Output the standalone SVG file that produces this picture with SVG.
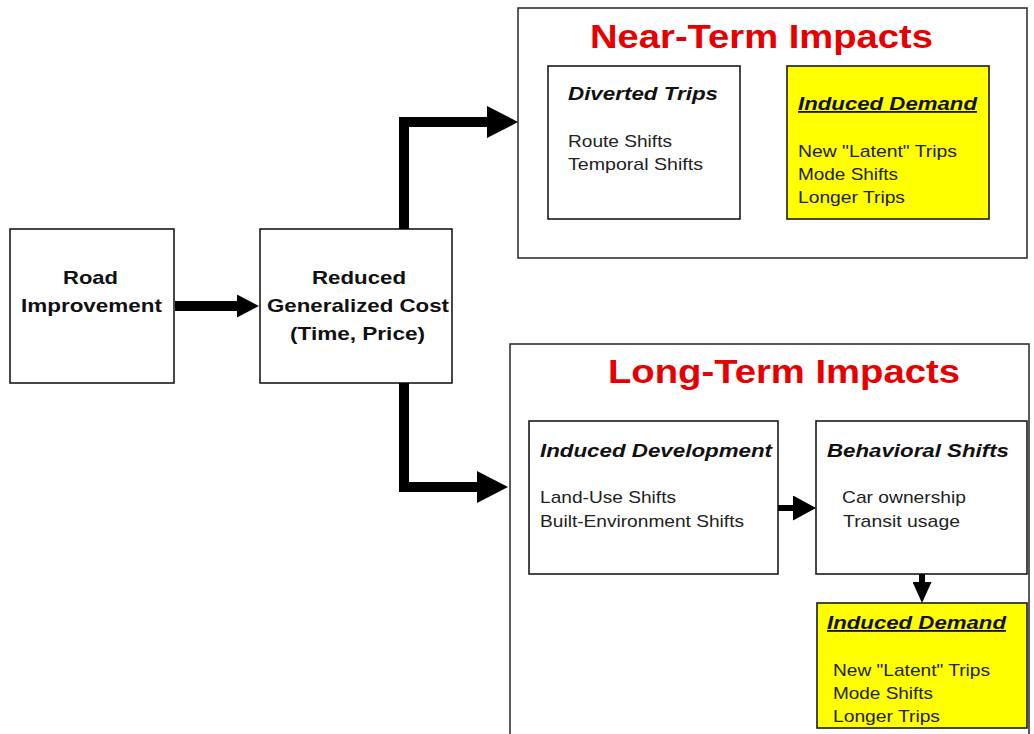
<svg xmlns="http://www.w3.org/2000/svg" width="1034" height="734" viewBox="0 0 1034 734">
<style>
.box{fill:#fff;stroke:#1a1a1a;stroke-width:1.6}
.yel{fill:#ffff00;stroke:#1a1a1a;stroke-width:1.6}
.cont{fill:#fff;stroke:#333;stroke-width:1.6}
text{font-family:"Liberation Sans",Arial,sans-serif;fill:#111}
.b{font-weight:bold;font-size:19px}
.bi{font-weight:bold;font-style:italic;font-size:18px}
.r{font-size:17px;fill:#222}
.t{font-weight:bold;font-size:33px;fill:#e60000}
.u{text-decoration:underline}
.conn{fill:none;stroke:#000;stroke-linejoin:miter}
</style>
<defs>
<marker id="hL" markerUnits="userSpaceOnUse" markerWidth="32" markerHeight="32" viewBox="0 0 32 32" refX="1" refY="16" orient="auto"><path d="M0,0 L31,16 L0,32 z" fill="#000"/></marker>
<marker id="hM" markerUnits="userSpaceOnUse" markerWidth="23" markerHeight="23" viewBox="0 0 23 23" refX="1" refY="11.5" orient="auto"><path d="M0,0 L22,11.5 L0,23 z" fill="#000"/></marker>
<marker id="hS" markerUnits="userSpaceOnUse" markerWidth="24" markerHeight="25" viewBox="0 0 24 25" refX="1" refY="12.5" orient="auto"><path d="M0,0 L23,12.5 L0,25 z" fill="#000"/></marker>
<marker id="hD" markerUnits="userSpaceOnUse" markerWidth="22" markerHeight="19" viewBox="0 0 22 19" refX="1" refY="9.5" orient="auto"><path d="M0,0 L21,9.5 L0,19 z" fill="#000"/></marker>
</defs>
<rect width="1034" height="734" fill="#fff"/>

<g id="near-term">
<rect class="cont" x="518" y="8" width="509" height="250"/>
<text class="t" x="590" y="48" textLength="343" lengthAdjust="spacingAndGlyphs">Near-Term Impacts</text>
</g>
<g id="long-term">
<rect class="cont" x="510" y="344" width="519" height="400"/>
<text class="t" x="608" y="383" textLength="352" lengthAdjust="spacingAndGlyphs">Long-Term Impacts</text>
</g>

<g id="road-improvement">
<rect class="box" x="10" y="229" width="164" height="154"/>
<text class="b" x="63" y="284" textLength="55" lengthAdjust="spacingAndGlyphs">Road</text>
<text class="b" x="21" y="312" textLength="141" lengthAdjust="spacingAndGlyphs">Improvement</text>
</g>

<g id="reduced-cost">
<rect class="box" x="260" y="229" width="192" height="154"/>
<text class="b" x="312" y="284" textLength="94" lengthAdjust="spacingAndGlyphs">Reduced</text>
<text class="b" x="267" y="312" textLength="182" lengthAdjust="spacingAndGlyphs">Generalized Cost</text>
<text class="b" x="290" y="340" textLength="135" lengthAdjust="spacingAndGlyphs">(Time, Price)</text>
</g>

<g id="diverted-trips">
<rect class="box" x="548" y="66" width="192" height="153"/>
<text class="bi" x="568" y="100" textLength="150" lengthAdjust="spacingAndGlyphs">Diverted Trips</text>
<text class="r" x="568" y="147" textLength="104" lengthAdjust="spacingAndGlyphs">Route Shifts</text>
<text class="r" x="568" y="170" textLength="135" lengthAdjust="spacingAndGlyphs">Temporal Shifts</text>
</g>

<g id="induced-demand-near">
<rect class="yel" x="787" y="66" width="202" height="153"/>
<text class="bi u" x="798" y="110" textLength="179" lengthAdjust="spacingAndGlyphs">Induced Demand</text>
<text class="r" x="798" y="157" textLength="159" lengthAdjust="spacingAndGlyphs">New "Latent" Trips</text>
<text class="r" x="798" y="180" textLength="100" lengthAdjust="spacingAndGlyphs">Mode Shifts</text>
<text class="r" x="798" y="203" textLength="107" lengthAdjust="spacingAndGlyphs">Longer Trips</text>
</g>

<g id="induced-development">
<rect class="box" x="529" y="421" width="249" height="153"/>
<text class="bi" x="540" y="457" textLength="232" lengthAdjust="spacingAndGlyphs">Induced Development</text>
<text class="r" x="540" y="503" textLength="136" lengthAdjust="spacingAndGlyphs">Land-Use Shifts</text>
<text class="r" x="540" y="527" textLength="204" lengthAdjust="spacingAndGlyphs">Built-Environment Shifts</text>
</g>

<g id="behavioral-shifts">
<rect class="box" x="816" y="421" width="211" height="153"/>
<text class="bi" x="827" y="457" textLength="182" lengthAdjust="spacingAndGlyphs">Behavioral Shifts</text>
<text class="r" x="842" y="503" textLength="124" lengthAdjust="spacingAndGlyphs">Car ownership</text>
<text class="r" x="843" y="527" textLength="117" lengthAdjust="spacingAndGlyphs">Transit usage</text>
</g>

<g id="induced-demand-long">
<rect class="yel" x="817" y="603" width="210" height="125"/>
<text class="bi u" x="827" y="629" textLength="179" lengthAdjust="spacingAndGlyphs">Induced Demand</text>
<text class="r" x="833" y="676" textLength="157" lengthAdjust="spacingAndGlyphs">New "Latent" Trips</text>
<text class="r" x="833" y="699" textLength="100" lengthAdjust="spacingAndGlyphs">Mode Shifts</text>
<text class="r" x="833" y="722" textLength="107" lengthAdjust="spacingAndGlyphs">Longer Trips</text>
</g>

<g id="connectors">
<path class="conn" d="M175,306 H238" stroke-width="10" marker-end="url(#hM)"/>
<path class="conn" d="M404,229 V122 H488" stroke-width="10" marker-end="url(#hL)"/>
<path class="conn" d="M404,383 V487 H478" stroke-width="10" marker-end="url(#hL)"/>
<path class="conn" d="M778,508 H794" stroke-width="6" marker-end="url(#hS)"/>
<path class="conn" d="M922,574 V583" stroke-width="6" marker-end="url(#hD)"/>
</g>
</svg>
